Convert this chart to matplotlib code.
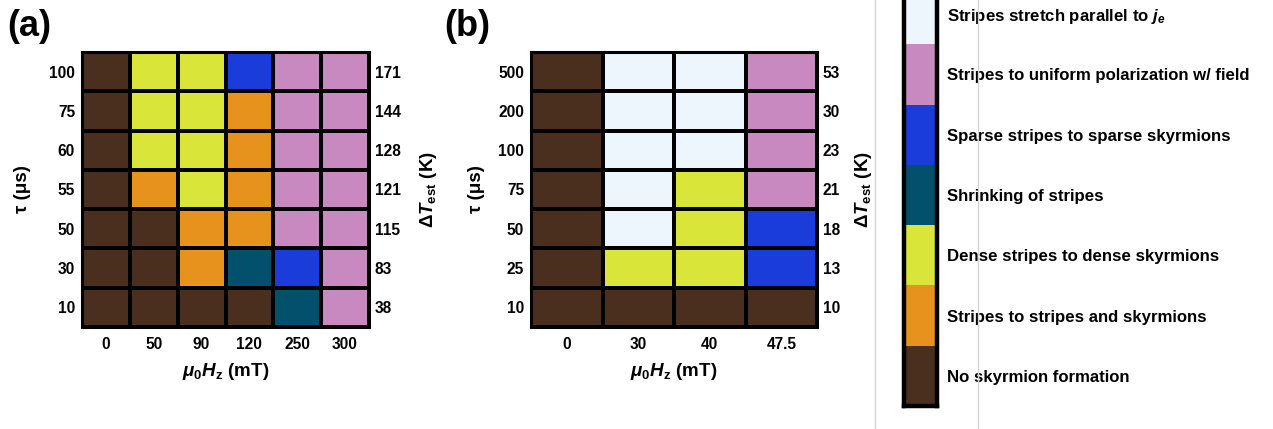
import numpy as np
import matplotlib
matplotlib.use("Agg")
import matplotlib.pyplot as plt
from matplotlib.colors import ListedColormap, BoundaryNorm
from matplotlib.lines import Line2D

plt.rcParams['font.family'] = ['Liberation Sans', 'DejaVu Sans']
plt.rcParams['font.weight'] = 'bold'
plt.rcParams['axes.labelweight'] = 'bold'
plt.rcParams['mathtext.fontset'] = 'custom'
plt.rcParams['mathtext.rm'] = 'Liberation Sans:bold'
plt.rcParams['mathtext.it'] = 'Liberation Sans:italic:bold'
plt.rcParams['mathtext.bf'] = 'Liberation Sans:bold'

# phase categories, bottom to top in the colour bar
phase_names = ['No skyrmion formation',
               'Stripes to stripes and skyrmions',
               'Dense stripes to dense skyrmions',
               'Shrinking of stripes',
               'Sparse stripes to sparse skyrmions',
               'Stripes to uniform polarization w/ field',
               r'Stripes stretch parallel to $j_e$']
phase_colors = ['#4a2e1e', '#e8921e', '#d9e639', '#02506b',
                '#1a3cdb', '#c888c0', '#eef6fd']

# panel (a)
field_a = ['0', '50', '90', '120', '250', '300']
tau_a = ['10', '30', '50', '55', '60', '75', '100']
dT_a = ['38', '83', '115', '121', '128', '144', '171']
# rows from bottom (10 us) to top (100 us)
phase_a = [[0, 0, 0, 0, 3, 5],
           [0, 0, 1, 3, 4, 5],
           [0, 0, 1, 1, 5, 5],
           [0, 1, 2, 1, 5, 5],
           [0, 2, 2, 1, 5, 5],
           [0, 2, 2, 1, 5, 5],
           [0, 2, 2, 4, 5, 5]]

# panel (b)
field_b = ['0', '30', '40', '47.5']
tau_b = ['10', '25', '50', '75', '100', '200', '500']
dT_b = ['10', '13', '18', '21', '23', '30', '53']
phase_b = [[0, 0, 0, 0],
           [0, 2, 2, 4],
           [0, 6, 2, 4],
           [0, 6, 2, 5],
           [0, 6, 6, 5],
           [0, 6, 6, 5],
           [0, 6, 6, 5]]

cmap = ListedColormap(phase_colors)
norm = BoundaryNorm(np.arange(-0.5, 7.5, 1), cmap.N)

W, H = 1273, 429
fig = plt.figure(figsize=(W / 100, H / 100), dpi=100)

TICK_FS = 11.2
LABEL_FS = 13.5


def panel(rect, data, xlabels, ylabels, rlabels, lab, lab_pos, yl_x, yr_x):
    ax = fig.add_axes(rect)
    data = np.array(data)
    ax.pcolormesh(data, cmap=cmap, norm=norm, edgecolors='black', linewidth=1.6)
    ax.set_xlim(0, data.shape[1])
    ax.set_ylim(0, data.shape[0])
    ax.set_xticks(np.arange(data.shape[1]) + 0.5)
    ax.set_xticklabels(xlabels)
    ax.set_yticks(np.arange(data.shape[0]) + 0.5)
    ax.set_yticklabels(ylabels)
    ax.tick_params(axis='y', length=0, labelsize=TICK_FS, pad=5)
    ax.tick_params(axis='x', length=0, labelsize=TICK_FS, pad=7)
    for s in ax.spines.values():
        s.set_linewidth(2.2)
    ax2 = ax.twinx()
    ax2.set_ylim(0, data.shape[0])
    ax2.set_yticks(np.arange(data.shape[0]) + 0.5)
    ax2.set_yticklabels(rlabels)
    ax2.tick_params(length=0, labelsize=TICK_FS, pad=4)
    for s in ax2.spines.values():
        s.set_visible(False)
    ax.set_xlabel(r'$\mu_0H_\mathrm{z}\ \mathrm{(mT)}$', fontsize=LABEL_FS,
                  labelpad=7)
    ax.text(yl_x, 0.5, 'τ (μs)', transform=ax.transAxes, rotation=90,
            ha='center', va='center', fontsize=LABEL_FS)
    ax.text(yr_x, 0.5, r'$\Delta T_\mathrm{est}\ \mathrm{(K)}$',
            transform=ax.transAxes, rotation=90, ha='center', va='center',
            fontsize=LABEL_FS)
    fig.text(lab_pos[0] / W, 1 - lab_pos[1] / H, lab, fontsize=26,
             ha='left', va='center')
    return ax


panel([82 / W, 1 - 327 / H, 287 / W, 275 / H], phase_a, field_a, tau_a, dT_a,
      '(a)', (7, 27), -0.209, 1.206)
panel([531 / W, 1 - 327 / H, 286 / W, 275 / H], phase_b, field_b, tau_b, dT_b,
      '(b)', (444, 27), -0.189, 1.161)

# colour bar, its top runs off the figure
cax = fig.add_axes([904 / W, 1 - 406 / H, 33 / W, 422 / H])
cax.pcolormesh(np.arange(7).reshape(-1, 1), cmap=cmap, norm=norm)
cax.set_xlim(0, 1)
cax.set_ylim(0, 7)
cax.set_xticks([])
cax.yaxis.tick_right()
cax.set_yticks(np.arange(7) + 0.5)
cax.set_yticklabels(phase_names)
cax.tick_params(length=0, labelsize=12.1, pad=7)
for s in cax.spines.values():
    s.set_linewidth(3.2)

# thin grey panel edges
for xp in (875, 978):
    fig.add_artist(Line2D([xp / W, xp / W], [0, 1], color='#d4d4d4', lw=1))

fig.savefig('out.png', dpi=100)
